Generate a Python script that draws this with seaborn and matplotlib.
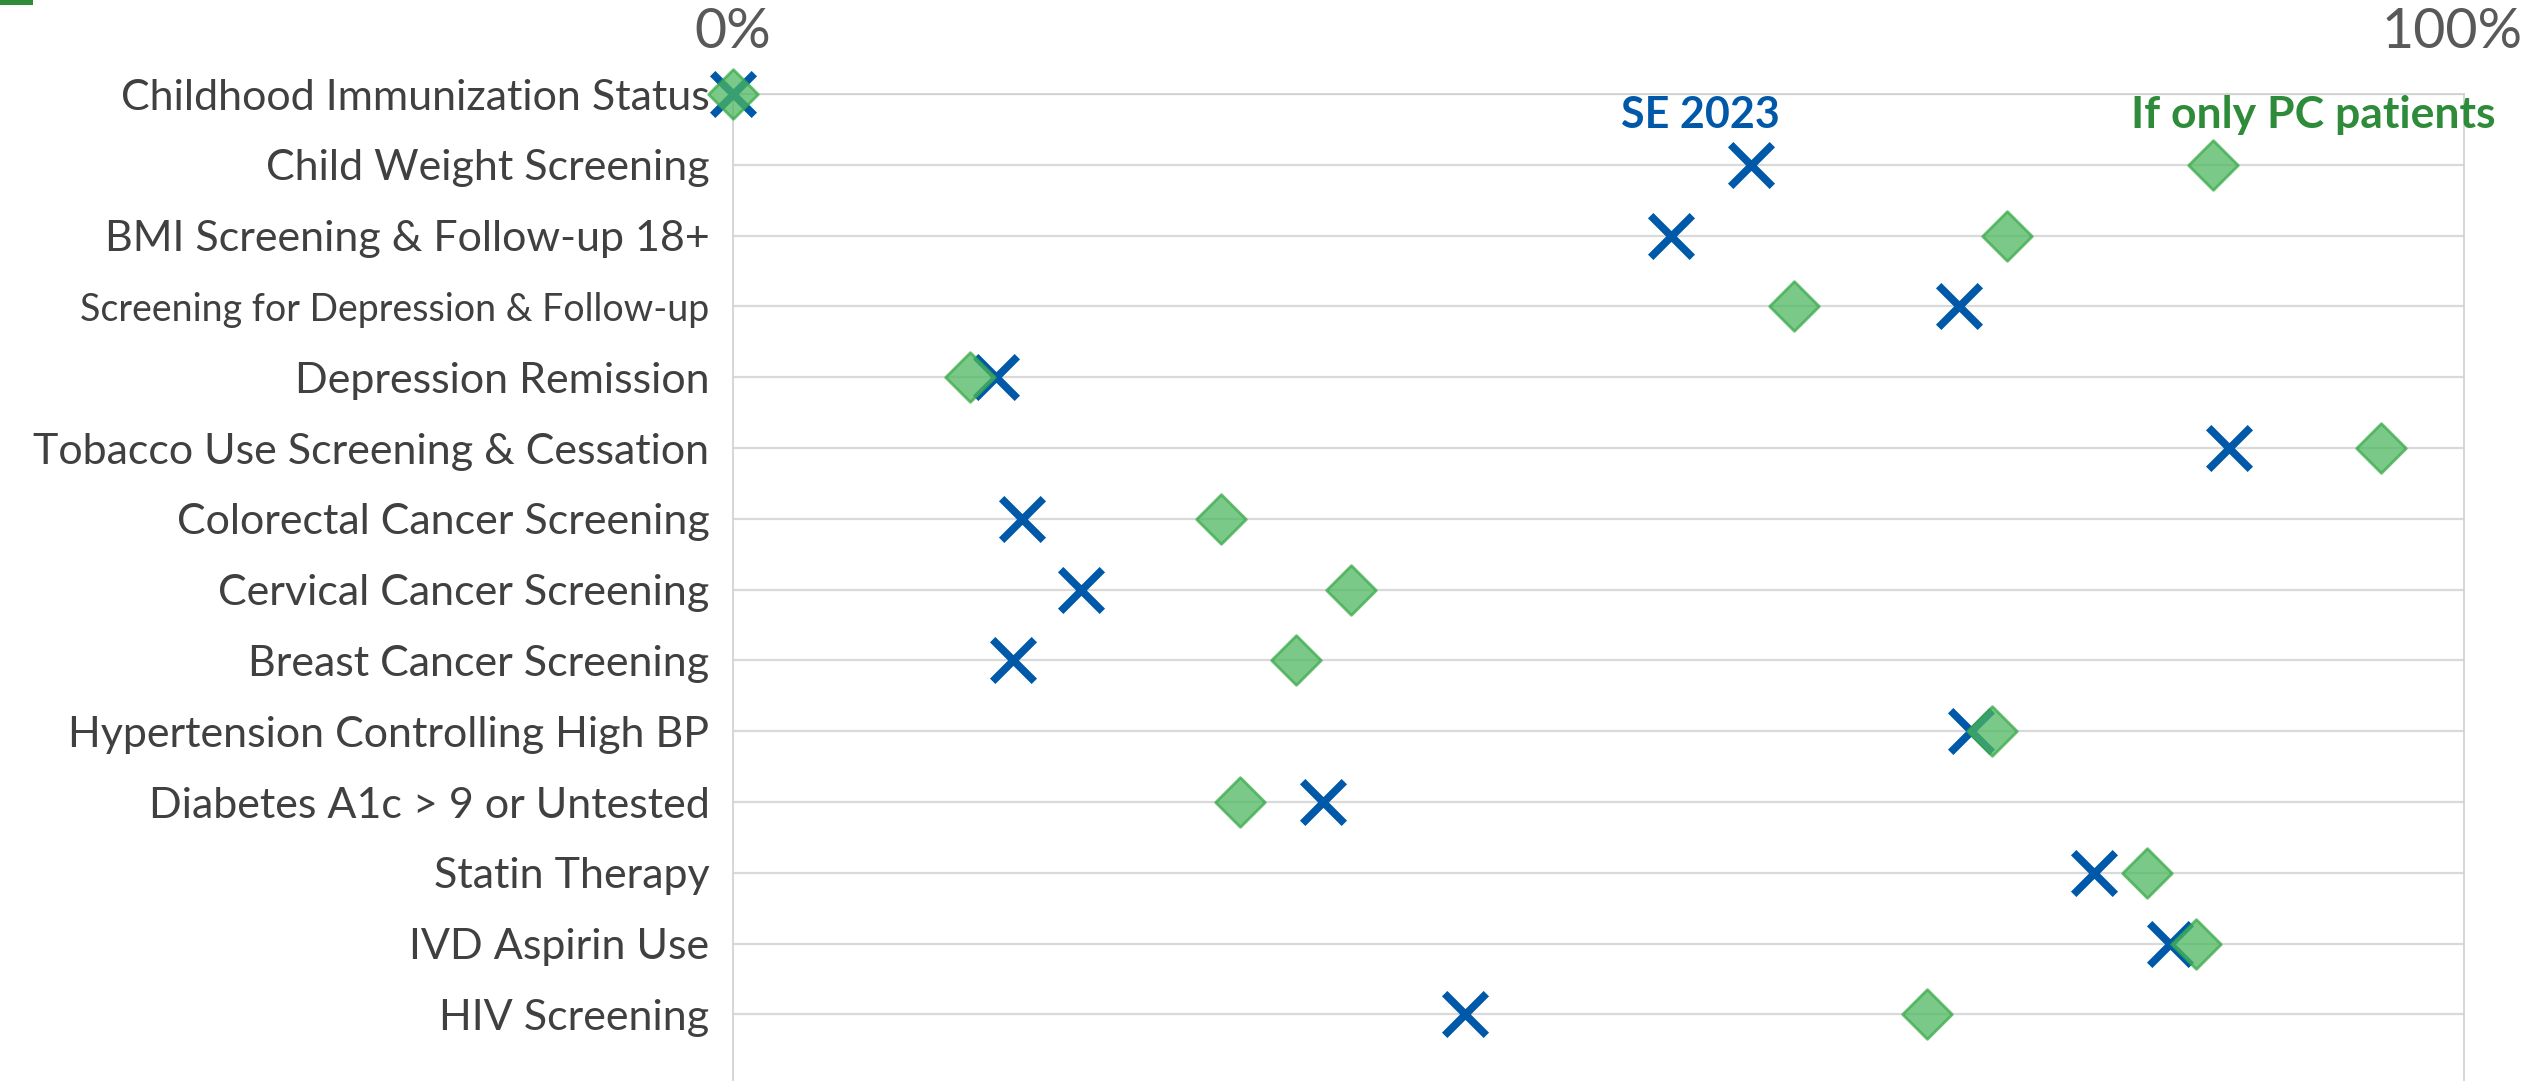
import matplotlib
matplotlib.use("Agg")
import matplotlib.pyplot as plt
import matplotlib.transforms as mtransforms
import seaborn as sns
import pandas as pd
from matplotlib.patches import Rectangle

measures = [
    "Childhood Immunization Status",
    "Child Weight Screening",
    "BMI Screening & Follow-up 18+",
    "Screening for Depression & Follow-up",
    "Depression Remission",
    "Tobacco Use Screening & Cessation",
    "Colorectal Cancer Screening",
    "Cervical Cancer Screening",
    "Breast Cancer Screening",
    "Hypertension Controlling High BP",
    "Diabetes A1c > 9 or Untested",
    "Statin Therapy",
    "IVD Aspirin Use",
    "HIV Screening",
]
se_2023 = [0.0, 58.8, 54.2, 70.8, 15.2, 86.4, 16.7, 20.1, 16.2, 71.5, 34.1, 78.6, 83.0, 42.3]
pc_only = [0.0, 85.5, 73.6, 61.3, 13.7, 95.2, 28.2, 35.7, 32.5, 72.7, 29.3, 81.7, 84.5, 69.0]
series_labels = ["SE 2023", "If only PC patients"]
tick_labels = ["0%", "100%"]

df = pd.DataFrame({"measure": measures, "se": se_2023, "pc": pc_only})

sns.set_theme(style="white")
plt.rcParams["font.family"] = ["Lato", "DejaVu Sans"]

BLUE = "#0059A8"
GREEN_FILL = "#4DB860"
GREEN_EDGE = "#3BAA4A"
GREEN_TEXT = "#2E8B3A"

fig = plt.figure(figsize=(25.39, 10.81), dpi=100)
ax = fig.add_axes([0.2887, 0.0, 0.9705 - 0.2887, 0.913])

sns.scatterplot(data=df, x="se", y="measure", marker="x", s=900, color=BLUE,
                linewidth=5.5, ax=ax, zorder=3, legend=False)
sns.scatterplot(data=df, x="pc", y="measure", marker="D", s=640, color=GREEN_FILL,
                edgecolor=GREEN_EDGE, linewidth=2, alpha=0.75, ax=ax, zorder=4,
                legend=False)
for coll in ax.collections:
    coll.set_clip_on(False)

ax.set_xlim(0, 100)
ax.set_ylim(13.94, 0)
ax.set_xlabel("")
ax.set_ylabel("")

ax.xaxis.tick_top()
ax.set_xticks([0, 100])
ax.set_xticklabels(tick_labels)
ax.tick_params(axis="x", length=0, pad=26, labelsize=40, labelcolor="#595959")
ax.tick_params(axis="y", length=0, pad=17, labelsize=31, labelcolor="#404040")
for i, lab in enumerate(ax.get_yticklabels()):
    if i == 3:
        lab.set_fontsize(27)
xt = ax.get_xticklabels()
xt[1].set_transform(xt[1].get_transform() +
                    mtransforms.ScaledTranslation(-0.12, 0, fig.dpi_scale_trans))

ax.grid(axis="y", color="#D9D9D9", linewidth=1.6, zorder=0)
ax.grid(axis="x", visible=False)
for side in ["left", "right", "top"]:
    ax.spines[side].set_color("#D0D0D0")
    ax.spines[side].set_linewidth(1.2)
ax.spines["bottom"].set_visible(False)
ax.set_axisbelow(True)

ax.text(55.9, 0.3, series_labels[0], color=BLUE, fontsize=31, fontweight="bold",
        ha="center", va="center", clip_on=False)
ax.text(91.3, 0.3, series_labels[1], color=GREEN_TEXT, fontsize=32, fontweight="bold",
        ha="center", va="center", clip_on=False)

fig.patches.append(Rectangle((0, 1081 - 5), 33, 5, transform=None,
                             facecolor="#2E8B3A", edgecolor="none"))

fig.savefig("out.png", dpi=100)
